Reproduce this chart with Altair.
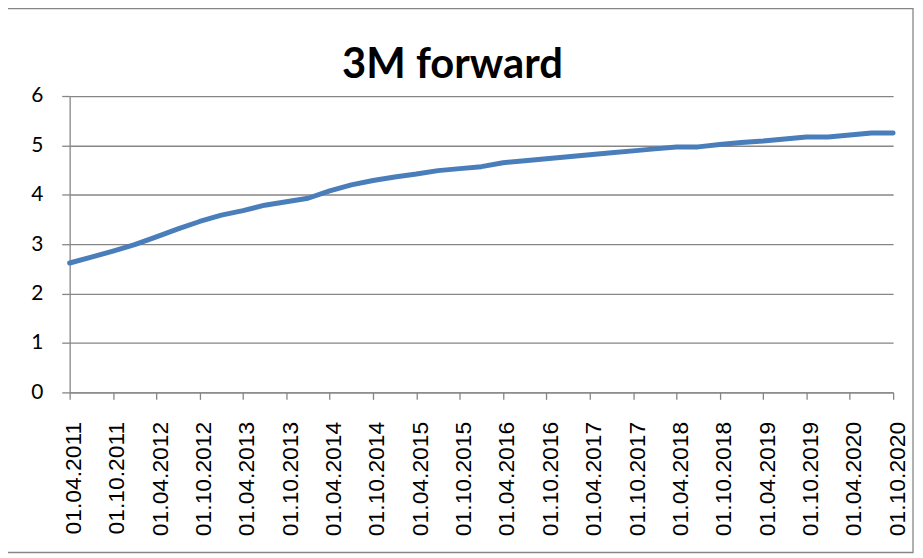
import altair as alt
import pandas as pd

dates = [
    "01.04.2011", "01.07.2011", "01.10.2011", "01.01.2012", "01.04.2012", "01.07.2012",
    "01.10.2012", "01.01.2013", "01.04.2013", "01.07.2013", "01.10.2013", "01.01.2014",
    "01.04.2014", "01.07.2014", "01.10.2014", "01.01.2015", "01.04.2015", "01.07.2015",
    "01.10.2015", "01.01.2016", "01.04.2016", "01.07.2016", "01.10.2016", "01.01.2017",
    "01.04.2017", "01.07.2017", "01.10.2017", "01.01.2018", "01.04.2018", "01.07.2018",
    "01.10.2018", "01.01.2019", "01.04.2019", "01.07.2019", "01.10.2019", "01.01.2020",
    "01.04.2020", "01.07.2020", "01.10.2020",
]
values = [
    2.62, 2.74, 2.86, 2.99, 3.15, 3.31,
    3.46, 3.59, 3.68, 3.79, 3.86, 3.93,
    4.08, 4.20, 4.29, 4.36, 4.42, 4.49,
    4.53, 4.57, 4.65, 4.69, 4.73, 4.77,
    4.81, 4.85, 4.89, 4.93, 4.97, 4.97,
    5.02, 5.06, 5.09, 5.13, 5.17, 5.17,
    5.21, 5.25, 5.25,
]
y_ticks = [0, 1, 2, 3, 4, 5, 6]
x_labels = dates[::2]
title_text = ["3M forward"]

df = pd.DataFrame({"date": dates, "value": values})

W, H = 836, 298
GRAY = "#868686"

line = alt.Chart(df).mark_line(
    color="#4A7EBB", strokeWidth=5, strokeCap="round", strokeJoin="round"
).encode(
    x=alt.X(
        "date:O",
        sort=dates,
        title=None,
        scale=alt.Scale(type="point", range=[0, 828], padding=0),
        axis=alt.Axis(
            values=x_labels,
            labelAngle=-90,
            labelAlign="right",
            labelBaseline="middle",
            labelFont="Liberation Sans",
            labelFontSize=23,
            labelFontWeight="normal",
            labelColor="#000000",
            labelPadding=22,
            labelOffset=4,
            tickSize=7,
            tickColor=GRAY,
            tickWidth=1.3,
            domainColor=GRAY,
            domainWidth=1.3,
            grid=False,
        ),
    ),
    y=alt.Y(
        "value:Q",
        title=None,
        scale=alt.Scale(domain=[0, 6], nice=False),
        axis=alt.Axis(
            values=y_ticks,
            labelFont="Lato",
            labelFontSize=21,
            labelColor="#000000",
            labelPadding=19,
            tickSize=8,
            tickColor=GRAY,
            tickWidth=1.3,
            domainColor=GRAY,
            domainWidth=1.3,
            grid=True,
            gridColor=GRAY,
            gridWidth=1.3,
        ),
    ),
)

border = alt.Chart(pd.DataFrame({"k": [0]})).mark_rect(
    fillOpacity=0, stroke=GRAY, strokeWidth=1.3
).encode(
    x=alt.value(-64), x2=alt.value(848), y=alt.value(-88), y2=alt.value(459)
)

title = alt.Chart(pd.DataFrame({"t": title_text})).mark_text(
    font="Lato", fontSize=42, fontWeight="bold", color="#000000",
    align="center", baseline="alphabetic"
).encode(
    text="t:N", x=alt.value(385), y=alt.value(-18)
)

chart = alt.layer(border, line, title).properties(
    width=W,
    height=H,
    autosize="none",
    padding={"left": 62, "top": 87, "right": 14, "bottom": 163},
    background="white",
).configure_view(stroke=None)

chart.save("out.html", embed_options={"renderer": "svg", "actions": False})
